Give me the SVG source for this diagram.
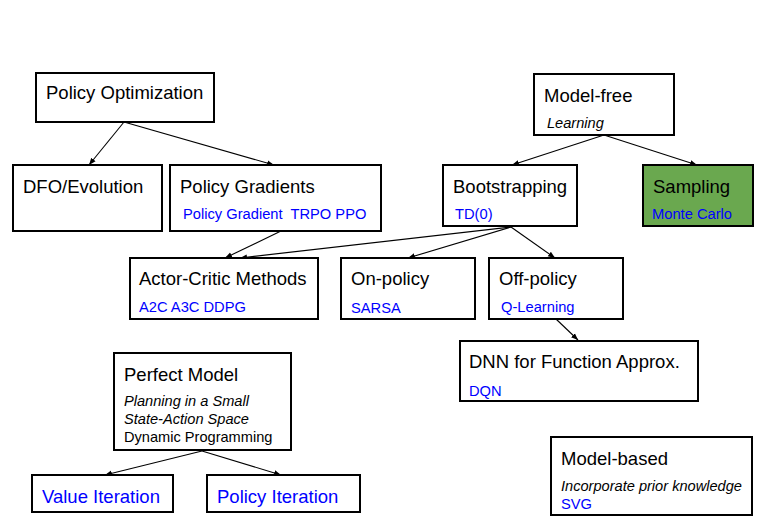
<svg xmlns="http://www.w3.org/2000/svg" width="768" height="529" viewBox="0 0 768 529">
<defs>
<marker id="ah" viewBox="0 0 10 10" refX="10" refY="5" markerWidth="7" markerHeight="7" orient="auto" markerUnits="userSpaceOnUse">
<path d="M0,1 L10,5 L0,9 z" fill="#000"/>
</marker>
<style>
.box{fill:#fff;stroke:#000;stroke-width:2}
.t{font-family:"Liberation Sans",Arial,sans-serif;font-size:18.5px;fill:#000}
.s{font-family:"Liberation Sans",Arial,sans-serif;font-size:14.7px;fill:#0000ff}
.i{font-family:"Liberation Sans",Arial,sans-serif;font-size:14.6px;font-style:italic;fill:#000}
.r{font-family:"Liberation Sans",Arial,sans-serif;font-size:14.6px;fill:#000}
.bt{font-family:"Liberation Sans",Arial,sans-serif;font-size:18.5px;fill:#0000ff}
.c{stroke:#000;stroke-width:1.1;fill:none;marker-end:url(#ah)}
</style>
</defs>
<rect width="768" height="529" fill="#fff"/>
<g id="connectors">
<line class="c" x1="124" y1="122" x2="89" y2="165"/>
<line class="c" x1="124" y1="122" x2="274" y2="165"/>
<line class="c" x1="604" y1="135" x2="512" y2="165"/>
<line class="c" x1="604" y1="135" x2="697" y2="165"/>
<line class="c" x1="281" y1="231" x2="225" y2="258"/>
<line class="c" x1="511" y1="227" x2="240" y2="258"/>
<line class="c" x1="511" y1="227" x2="408" y2="258"/>
<line class="c" x1="511" y1="227" x2="555" y2="258"/>
<line class="c" x1="556" y1="319" x2="578" y2="340"/>
<line class="c" x1="202" y1="451" x2="105" y2="475"/>
<line class="c" x1="202" y1="451" x2="281" y2="475"/>
</g>
<g id="policy-optimization">
<rect class="box" x="36" y="73" width="178" height="49"/>
<text class="t" x="46" y="99">Policy Optimization</text>
</g>
<g id="dfo-evolution">
<rect class="box" x="13" y="165" width="149" height="66"/>
<text class="t" x="23" y="193">DFO/Evolution</text>
</g>
<g id="policy-gradients">
<rect class="box" x="170" y="165" width="211" height="66"/>
<text class="t" x="180" y="193">Policy Gradients</text>
<text class="s" x="183" y="219" xml:space="preserve">Policy Gradient  TRPO PPO</text>
</g>
<g id="model-free">
<rect class="box" x="534" y="74" width="140" height="61"/>
<text class="t" x="544" y="102">Model-free</text>
<text class="i" x="547" y="128">Learning</text>
</g>
<g id="bootstrapping">
<rect class="box" x="443" y="165" width="134" height="61"/>
<text class="t" x="453" y="193">Bootstrapping</text>
<text class="s" x="455" y="219">TD(0)</text>
</g>
<g id="sampling">
<rect class="box" x="643" y="165" width="110" height="61" style="fill:#6aa84f"/>
<text class="t" x="653" y="193">Sampling</text>
<text class="s" x="652" y="219">Monte Carlo</text>
</g>
<g id="actor-critic">
<rect class="box" x="130" y="258" width="188" height="61"/>
<text class="t" x="139" y="285">Actor-Critic Methods</text>
<text class="s" x="139" y="312">A2C A3C DDPG</text>
</g>
<g id="on-policy">
<rect class="box" x="341" y="258" width="134" height="61"/>
<text class="t" x="351" y="285">On-policy</text>
<text class="s" x="351" y="313">SARSA</text>
</g>
<g id="off-policy">
<rect class="box" x="489" y="258" width="134" height="61"/>
<text class="t" x="499" y="285">Off-policy</text>
<text class="s" x="501" y="312">Q-Learning</text>
</g>
<g id="dnn">
<rect class="box" x="460" y="341" width="238" height="60"/>
<text class="t" x="469" y="368">DNN for Function Approx.</text>
<text class="s" x="469" y="396">DQN</text>
</g>
<g id="perfect-model">
<rect class="box" x="114" y="353" width="177" height="97"/>
<text class="t" x="124" y="381">Perfect Model</text>
<text class="i" x="124" y="406">Planning in a Small</text>
<text class="i" x="124" y="424">State-Action Space</text>
<text class="r" x="124" y="442">Dynamic Programming</text>
</g>
<g id="value-iteration">
<rect class="box" x="32" y="475" width="141" height="37"/>
<text class="bt" x="42" y="503">Value Iteration</text>
</g>
<g id="policy-iteration">
<rect class="box" x="207" y="475" width="153" height="37"/>
<text class="bt" x="217" y="503">Policy Iteration</text>
</g>
<g id="model-based">
<rect class="box" x="551" y="437" width="201" height="78"/>
<text class="t" x="561" y="465">Model-based</text>
<text class="i" x="561" y="491">Incorporate prior knowledge</text>
<text class="s" x="561" y="509">SVG</text>
</g>
</svg>
